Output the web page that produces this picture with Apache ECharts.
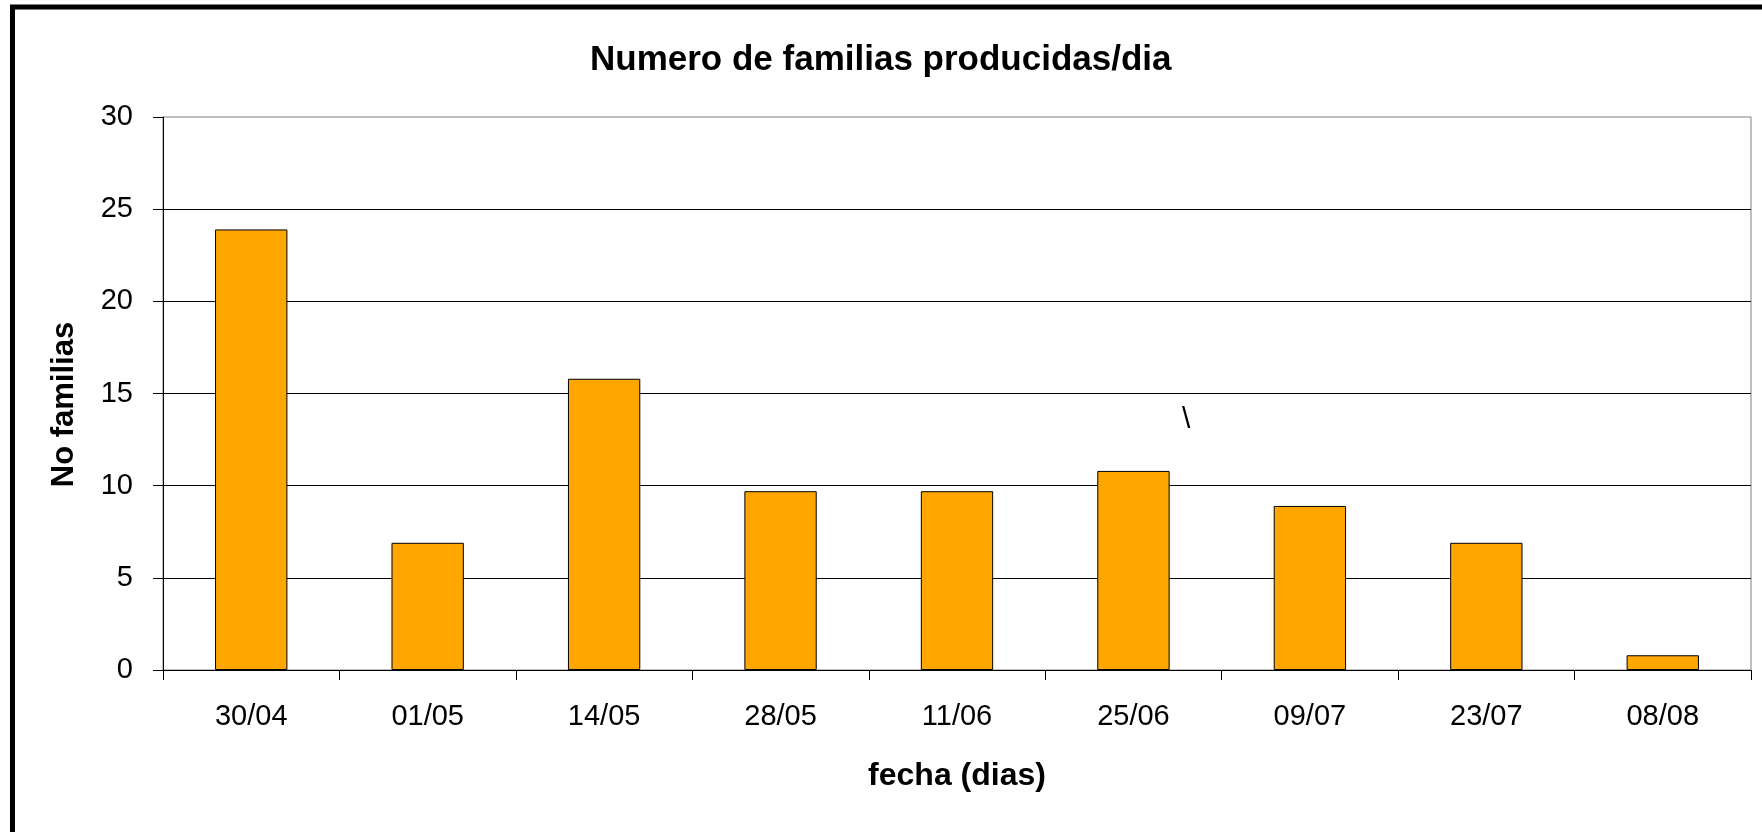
<!DOCTYPE html>
<html>
<head>
<meta charset="utf-8">
<title>Numero de familias producidas/dia</title>
<script src="https://cdn.jsdelivr.net/npm/echarts@6/dist/echarts.min.js"></script>
<style>
  html, body { margin: 0; padding: 0; background: #fff; }
  #chart { width: 1762px; height: 832px; }
</style>
</head>
<body>
<div id="chart"></div>
<script>
// fechas (categorías del eje X)
const fechas = ['30/04', '01/05', '14/05', '28/05', '11/06', '25/06', '09/07', '23/07', '08/08'];
// número de familias producidas
const familias = [23.9, 6.9, 15.8, 9.7, 9.7, 10.8, 8.9, 6.9, 0.8];
// marcas del eje Y
const yTicks = { min: 0, max: 30, interval: 5 };

const FONT = '"Liberation Sans", Arial, sans-serif';

const chart = echarts.init(document.getElementById('chart'), null, { renderer: 'canvas' });

chart.setOption({
  backgroundColor: '#fff',
  animation: false,
  title: {
    text: 'Numero de familias producidas/dia',
    left: 585,
    top: 38,
    textStyle: { fontFamily: FONT, fontSize: 35, fontWeight: 'bold', color: '#000' },
  },
  grid: {
    left: 163, right: 11, top: 117, bottom: 162,
    show: true, borderColor: '#808080', borderWidth: 1, backgroundColor: 'transparent',
  },
  xAxis: {
    type: 'category',
    data: fechas,
    name: 'fecha (dias)',
    nameLocation: 'middle',
    nameGap: 90,
    nameTextStyle: { fontFamily: FONT, fontSize: 32, fontWeight: 'bold', color: '#000' },
    axisLine: { lineStyle: { color: '#000', width: 1 } },
    axisTick: { show: true, length: 10, lineStyle: { color: '#000' } },
    axisLabel: { fontFamily: FONT, fontSize: 29, color: '#000', margin: 32 },
  },
  yAxis: {
    type: 'value',
    min: yTicks.min, max: yTicks.max, interval: yTicks.interval,
    name: 'No familias',
    nameLocation: 'middle',
    nameGap: 83,
    nameRotate: 90,
    nameTextStyle: { fontFamily: FONT, fontSize: 31, fontWeight: 'bold', color: '#000', padding: [0, 22, 0, 0] },
    axisLine: { show: true, lineStyle: { color: '#000', width: 1 } },
    axisTick: { show: true, length: 10, lineStyle: { color: '#000' } },
    axisLabel: { fontFamily: FONT, fontSize: 29, color: '#000', margin: 30 },
    splitLine: { show: true, showMaxLine: false, lineStyle: { color: '#000', width: 1 } },
  },
  series: [{
    type: 'bar',
    data: familias,
    barWidth: '41%',
    itemStyle: { color: '#FFA600', borderColor: '#000', borderWidth: 1 },
  }],
  graphic: [
    // marco exterior del gráfico
    {
      type: 'rect',
      shape: { x: 12.5, y: 7, width: 1800, height: 900 },
      style: { fill: 'none', stroke: '#000', lineWidth: 5 },
      silent: true,
    },
    // barra invertida suelta presente en el original
    {
      type: 'text',
      left: 1182, top: 405,
      style: { text: '\\', font: '30px ' + FONT, fill: '#000' },
      silent: true,
    },
  ],
});
</script>
</body>
</html>
